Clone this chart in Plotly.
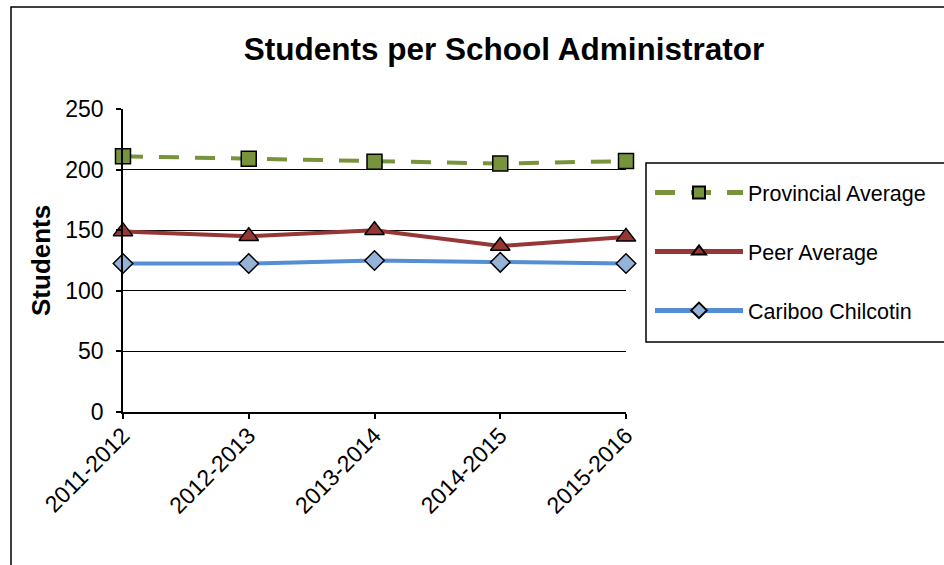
import plotly.graph_objects as go

years = ["2011-2012", "2012-2013", "2013-2014", "2014-2015", "2015-2016"]
provincial = [211, 209, 206.5, 205, 207]
peer = [149, 145, 150, 137, 144.5]
cariboo = [122.5, 122.5, 125, 123.5, 122.5]
y_ticks = [0, 50, 100, 150, 200, 250]

W, H = 944, 565
L, R, T, B = 123, 318, 109, 153
pw = W - L - R
ph = H - T - B

fig = go.Figure()
fig.add_trace(go.Scatter(
    x=years, y=provincial, name="Provincial Average", mode="lines+markers",
    line=dict(color="#77933C", width=4, dash="20px,16px"),
    marker=dict(symbol="square", size=15, color="#77933C", line=dict(color="black", width=1.5)),
    cliponaxis=False, legendgroup="a"))
fig.add_trace(go.Scatter(
    x=years, y=peer, name="Peer Average", mode="lines+markers",
    line=dict(color="#953735", width=4),
    marker=dict(symbol="triangle-up", size=17, color="#953735", line=dict(color="black", width=1.5)),
    cliponaxis=False, legendgroup="b"))
fig.add_trace(go.Scatter(
    x=years, y=cariboo, name="Cariboo Chilcotin", mode="lines+markers",
    line=dict(color="#558ED5", width=4),
    marker=dict(symbol="diamond", size=15, color="#95B3D7", line=dict(color="black", width=1.5)),
    cliponaxis=False, legendgroup="c"))

font = "Liberation Sans, Arial, sans-serif"

fig.update_layout(
    width=W, height=H,
    margin=dict(l=L, r=R, t=T, b=B),
    paper_bgcolor="white", plot_bgcolor="white",
    font=dict(family=font, size=22, color="black"),
    title=dict(text="<b>Students per School Administrator</b>", x=504 / W, xanchor="center",
               y=1 - 49 / H, yanchor="middle", yref="container",
               font=dict(size=31.5, family=font, color="black")),
    showlegend=True,
    legend=dict(x=(650 - L) / pw, xanchor="left", y=(412 - 172) / ph, yanchor="top",
                borderwidth=0, bgcolor="rgba(0,0,0,0)",
                font=dict(size=21.5, family=font), traceorder="grouped",
                tracegroupgap=28, itemwidth=88, itemsizing="constant"),
    xaxis=dict(type="category", range=[0, 4], showgrid=False, showline=True,
               linecolor="black", linewidth=2, ticks="outside", ticklen=5,
               tickcolor="black", tickwidth=1.5, tickangle=-45, ticklabelstandoff=-6,
               tickfont=dict(size=23, family=font), fixedrange=True),
    yaxis=dict(range=[0, 250], tickvals=y_ticks, showgrid=True, gridcolor="black",
               gridwidth=1.3, showline=True, linecolor="black", linewidth=1.5,
               ticks="outside", ticklen=5, tickcolor="black", tickwidth=1.5,
               ticklabelstandoff=8,
               zeroline=False, tickfont=dict(size=23, family=font)),
    annotations=[dict(text="<b>Students</b>", x=(41 - L) / pw, y=(412 - 261) / ph,
                      xref="paper", yref="paper", textangle=-90, showarrow=False,
                      xanchor="center", yanchor="middle",
                      font=dict(size=26, family=font, color="black"))],
    shapes=[dict(type="rect", xref="paper", yref="paper",
                 x0=(11 - L) / pw, x1=(960 - L) / pw,
                 y0=(412 - 600) / ph, y1=(412 - 7) / ph,
                 line=dict(color="black", width=1.5), layer="below"),
            dict(type="rect", xref="paper", yref="paper",
                 x0=(646 - L) / pw, x1=(960 - L) / pw,
                 y0=(412 - 342) / ph, y1=(412 - 163) / ph,
                 line=dict(color="black", width=1.5), fillcolor="white", layer="below")],
)

fig.write_html("out.html")
